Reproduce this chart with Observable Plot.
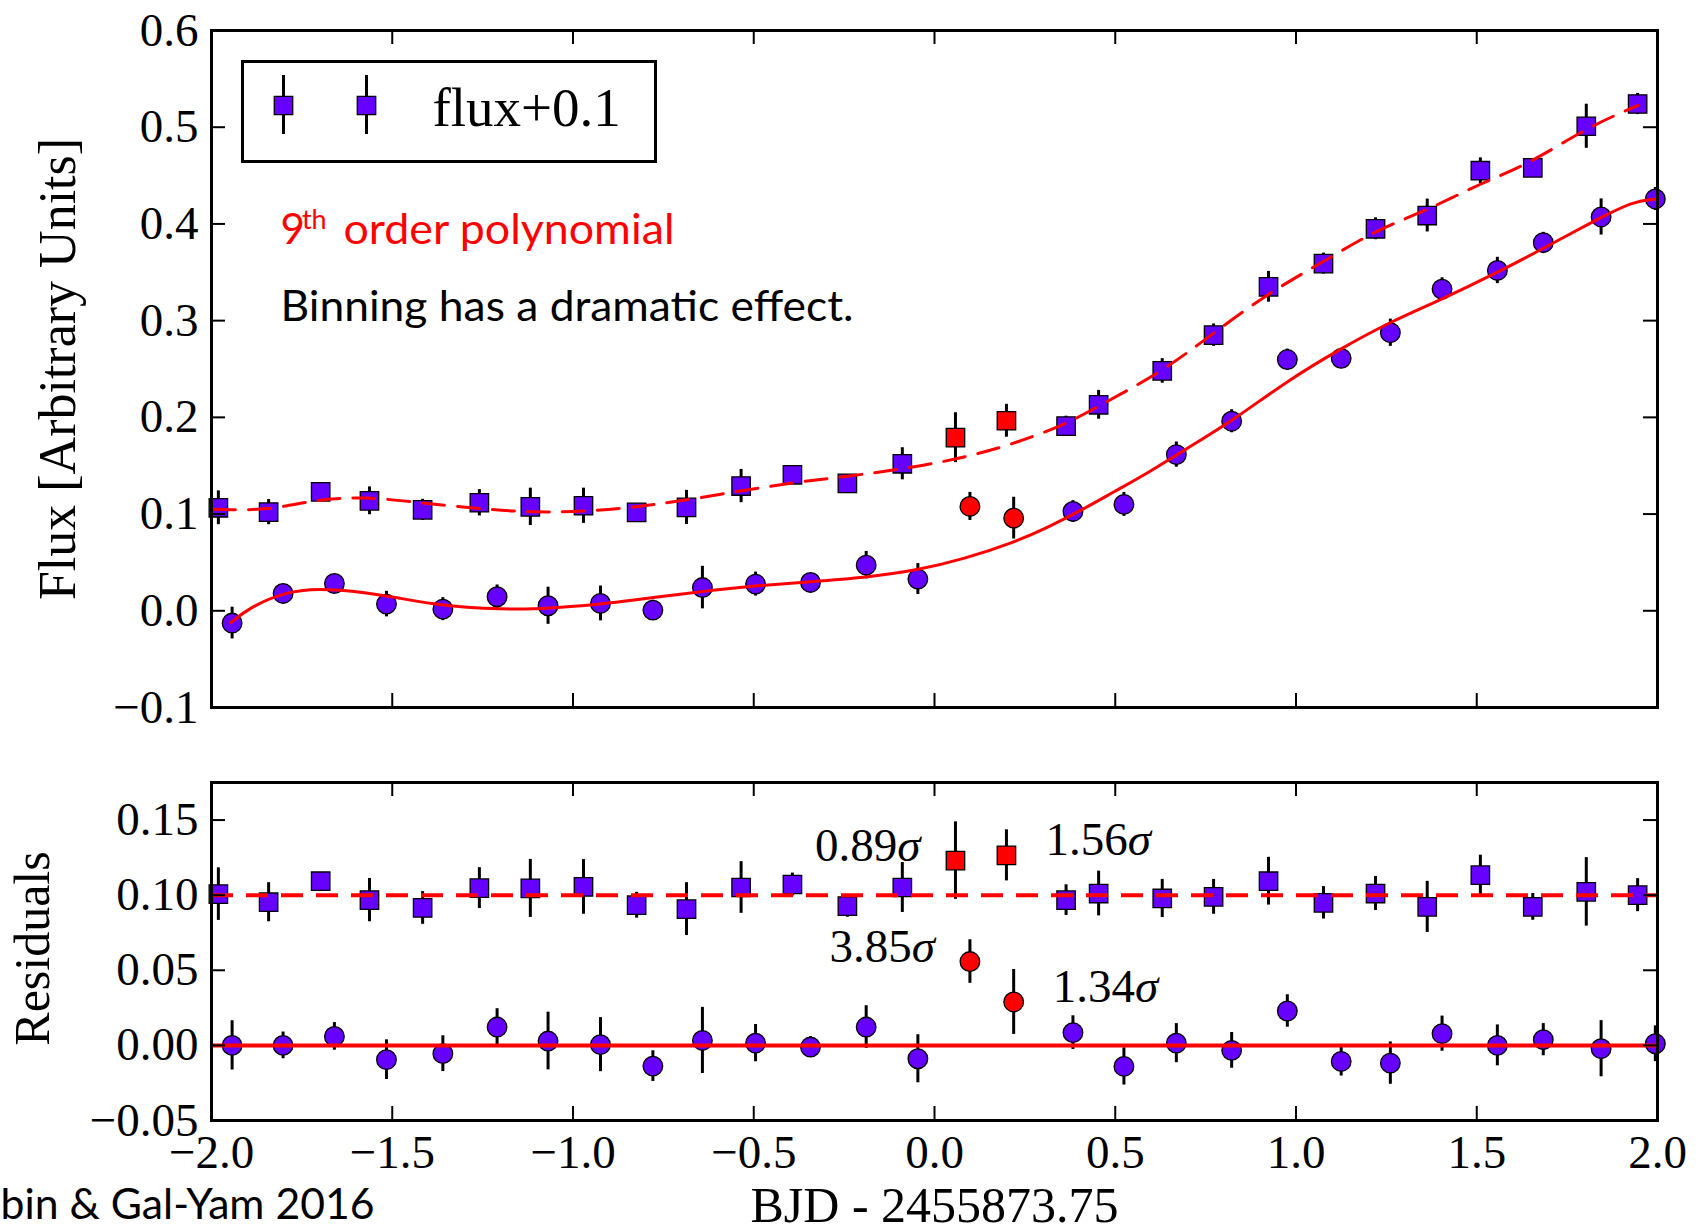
<!DOCTYPE html>
<html>
<head>
<meta charset="utf-8">
<script src="https://cdn.jsdelivr.net/npm/d3@7"></script>
<script src="https://cdn.jsdelivr.net/npm/@observablehq/plot@0.6"></script>
<style>
  html, body { margin: 0; padding: 0; background: #fff; overflow: hidden; }
  #fig { position: relative; width: 1699px; height: 1230px; background: #fff; }
  #fig svg { position: absolute; display: block; max-width: none; }
</style>
</head>
<body>
<div id="fig"></div>
<script>
// ---- Binned light curve, days relative to BJD 2455873.75 ----

// Square bins (flux shifted by +0.1)
const squareX = [-1.981, -1.842, -1.698, -1.563, -1.416, -1.259, -1.118, -0.971, -0.824, -0.686,
                 -0.535, -0.393, -0.241, -0.089, 0.058, 0.199, 0.364, 0.454, 0.630, 0.772,
                 0.924, 1.076, 1.220, 1.363, 1.510, 1.655, 1.803, 1.945];
const squareFlux = [0.1065, 0.102, 0.123, 0.1137, 0.1044, 0.1117, 0.1075, 0.1086, 0.1017, 0.1069,
                    0.129, 0.1406, 0.1317, 0.152, 0.179, 0.1965, 0.191, 0.213, 0.248, 0.285,
                    0.335, 0.359, 0.395, 0.4087, 0.455, 0.458, 0.501, 0.524];
const squareErr = [0.0175, 0.013, 0.005, 0.0144, 0.0109, 0.0136, 0.0193, 0.0182, 0.0086, 0.0176,
                   0.0172, 0.0076, 0.0074, 0.0166, 0.0258, 0.017, 0.0102, 0.0149, 0.0127, 0.0116,
                   0.0159, 0.0108, 0.0113, 0.017, 0.0133, 0.0089, 0.0228, 0.011];
const squareResid = [0.1007, 0.0953, 0.1093, 0.0967, 0.0915, 0.1047, 0.1045, 0.1055, 0.0933, 0.0907,
                     0.1051, 0.1071, 0.0927, 0.1051, 0.123, 0.1265, 0.0967, 0.1011, 0.0978, 0.0989,
                     0.1093, 0.0949, 0.1011, 0.0922, 0.1133, 0.0922, 0.1022, 0.1];

// Circle bins (unshifted flux)
const circleX = [-1.943, -1.802, -1.660, -1.516, -1.360, -1.210, -1.069, -0.924, -0.779, -0.642,
                 -0.495, -0.343, -0.189, -0.046, 0.098, 0.219, 0.383, 0.524, 0.669, 0.822,
                 0.976, 1.125, 1.261, 1.404, 1.557, 1.684, 1.844, 1.994];
const circleFlux = [-0.0127, 0.0179, 0.0282, 0.0069, 0.0017, 0.0145, 0.0052, 0.0076, 0.0007, 0.024,
                    0.0276, 0.0293, 0.0472, 0.0328, 0.1079, 0.0958, 0.1027, 0.110, 0.1615, 0.196,
                    0.2598, 0.261, 0.2875, 0.3326, 0.3519, 0.3806, 0.4072, 0.4258];
const circleErr = [0.0164, 0.0089, 0.0092, 0.0132, 0.0119, 0.0122, 0.0192, 0.018, 0.0102, 0.022,
                   0.0124, 0.0069, 0.0142, 0.016, 0.0145, 0.0216, 0.0112, 0.0124, 0.013, 0.0119,
                   0.0108, 0.0097, 0.0141, 0.0117, 0.0136, 0.0107, 0.0187, 0.0119];
const circleResid = [0.0, 0.0, 0.006, -0.0095, -0.0055, 0.0122, 0.0029, 0.0005, -0.0138, 0.0033,
                     0.0015, -0.0011, 0.0122, -0.0089, 0.0558, 0.0289, 0.0085, -0.014, 0.0015, -0.0033,
                     0.0229, -0.0107, -0.0118, 0.0078, 0.0, 0.0038, -0.0022, 0.0011];

// Bins flagged as outliers
const flaggedBins = [14, 15];

// 9th order polynomial fit through the circle bins
const fitX = [-1.947, -1.892, -1.80, -1.708, -1.569, -1.477, -1.385, -1.293, -1.20, -1.108,
              -1.016, -0.924, -0.832, -0.703, -0.610, -0.495, -0.343, -0.189, -0.046, 0.081,
              0.219, 0.312, 0.404, 0.496, 0.593, 0.690, 0.823, 0.976, 1.128, 1.262,
              1.404, 1.557, 1.686, 1.844, 1.934, 1.994];
const fitY = [-0.0124, 0.004, 0.019, 0.0237, 0.019, 0.0128, 0.0069, 0.0034, 0.0017, 0.0017,
              0.004, 0.0069, 0.011, 0.0172, 0.0214, 0.0259, 0.030, 0.0345, 0.042, 0.0535,
              0.0705, 0.086, 0.1034, 0.123, 0.143, 0.166, 0.196, 0.238, 0.272, 0.299,
              0.322, 0.3497, 0.375, 0.407, 0.4234, 0.4256];

// 9th order polynomial fit through the square bins
const fitShiftX = [-1.994, -1.846, -1.708, -1.569, -1.431, -1.247, -1.108, -0.970, -0.832, -0.693,
                   -0.537, -0.389, -0.241, -0.089, 0.053, 0.196, 0.362, 0.455, 0.630, 0.773,
                   0.925, 1.077, 1.220, 1.363, 1.510, 1.649, 1.803, 1.946];
const fitShiftY = [0.105, 0.1034, 0.1155, 0.1179, 0.112, 0.105, 0.1017, 0.1027, 0.1069, 0.114,
                   0.124, 0.1327, 0.139, 0.1465, 0.156, 0.1696, 0.1923, 0.212, 0.247, 0.2875,
                   0.3289, 0.3612, 0.3935, 0.414, 0.442, 0.4626, 0.4995, 0.5226];

// Axis ticks
const xTicks = [-2, -1.5, -1, -0.5, 0, 0.5, 1, 1.5, 2];
const fluxTicks = [-0.1, 0, 0.1, 0.2, 0.3, 0.4, 0.5, 0.6];
const residTicks = [-0.05, 0, 0.05, 0.1, 0.15];

// ---- tables ----
const squares = squareX.map((x, i) => ({i, x, y: squareFlux[i], e: squareErr[i], r: squareResid[i], base: 0.1}));
const circles = circleX.map((x, i) => ({i, x, y: circleFlux[i], e: circleErr[i], r: circleResid[i], base: 0}));
const fit = fitX.map((x, i) => ({x, y: fitY[i]}));
const fitShift = fitShiftX.map((x, i) => ({x, y: fitShiftY[i]}));

const PURPLE = "#6600ff", RED = "#ff0000";
const serif = "'Liberation Serif', 'DejaVu Serif', serif";
const sans = "Lato, 'Open Sans', sans-serif";
const isFlagged = d => flaggedBins.includes(d.i);
const fillFor = d => isFlagged(d) ? RED : PURPLE;

const W = 1699, ML = 211, MR = 42;
const FW = W - ML - MR;

// inward ticks on all four sides of a panel
function inwardTicks(frameH, yTicks) {
  return [
    Plot.tickX(xTicks, {x: d => d, insetTop: frameH - 14, stroke: "black", strokeWidth: 2}),
    Plot.tickX(xTicks, {x: d => d, insetBottom: frameH - 14, stroke: "black", strokeWidth: 2}),
    Plot.tickY(yTicks, {y: d => d, insetRight: FW - 14, stroke: "black", strokeWidth: 2}),
    Plot.tickY(yTicks, {y: d => d, insetLeft: FW - 14, stroke: "black", strokeWidth: 2})
  ];
}

function errorBars(data, value) {
  return Plot.ruleX(data, {x: "x", y1: d => value(d) - d.e, y2: d => value(d) + d.e,
                           stroke: "black", strokeWidth: 3});
}

function markers(data, value, symbol) {
  return Plot.dot(data, {x: "x", y: value, symbol, r: symbol === "square" ? 10.4 : 9.8,
                         fill: fillFor, stroke: "black", strokeWidth: 1.3});
}

const baseStyle = {fontFamily: serif, fontSize: "47px", background: "transparent", overflow: "visible", color: "black"};

// ---- upper panel: flux ----
const TOP_H = 720, TOP_MT = 30, TOP_MB = 13;
const topPlot = Plot.plot({
  width: W, height: TOP_H,
  marginTop: TOP_MT, marginBottom: TOP_MB, marginLeft: ML, marginRight: MR,
  x: {domain: [-2, 2], axis: null},
  y: {domain: [-0.1, 0.6]},
  color: {type: "identity"},
  style: baseStyle,
  marks: [
    errorBars(squares, d => d.y),
    errorBars(circles, d => d.y),
    markers(squares, "y", "square"),
    markers(circles, "y", "circle"),
    Plot.line(fitShift, {x: "x", y: "y", stroke: RED, strokeWidth: 3, strokeDasharray: "22,13", curve: "basis"}),
    Plot.line(fit, {x: "x", y: "y", stroke: RED, strokeWidth: 3, curve: "basis"}),
    Plot.frame({stroke: "black", strokeWidth: 3}),
    ...inwardTicks(TOP_H - TOP_MT - TOP_MB, fluxTicks),
    Plot.axisY(fluxTicks, {tickFormat: d3.format(".1f"), tickSize: 0, tickPadding: 13, label: null}),
    Plot.text(["Flux [Arbitrary Units]"], {frameAnchor: "left", textAnchor: "middle", rotate: -90, dx: -137,
                                          lineAnchor: "bottom", fontSize: 52}),
    Plot.text(["9"], {x: -1.809, y: 0.3795, textAnchor: "start", lineAnchor: "bottom", fill: RED, fontFamily: sans, fontSize: 42}),
    Plot.text(["th"], {x: -1.750, y: 0.395, textAnchor: "start", lineAnchor: "bottom", fill: RED, fontFamily: sans, fontSize: 27}),
    Plot.text(["order polynomial"], {x: -1.635, y: 0.3795, textAnchor: "start", lineAnchor: "bottom", fill: RED,
                                     fontFamily: sans, fontSize: 42}),
    Plot.text(["Binning has a dramatic effect."], {x: -1.809, y: 0.300, textAnchor: "start", lineAnchor: "bottom",
                                     fontFamily: sans, fontSize: 42})
  ]
});

// ---- legend ----
const legend = Plot.plot({
  width: 417, height: 104, margin: 0,
  x: {domain: [0, 417], axis: null},
  y: {domain: [104, 0], axis: null},
  style: {...baseStyle, background: "white", overflow: "hidden"},
  marks: [
    Plot.frame({inset: 2, stroke: "black", strokeWidth: 3}),
    Plot.ruleX([43, 126], {x: d => d, y1: 16, y2: 75, stroke: "black", strokeWidth: 3}),
    Plot.dot([43, 126], {x: d => d, y: 46, symbol: "square", r: 10.4, fill: PURPLE, stroke: "black", strokeWidth: 1.3}),
    Plot.text(["flux+0.1"], {x: 192, y: 66, textAnchor: "start", lineAnchor: "bottom", fontSize: 55})
  ]
});

// ---- lower panel: residuals ----
const BOT_H = 510, BOT_MT = 62, BOT_MB = 110;
const sigmaText = d => ((d.r - d.base) / d.e).toFixed(2) + "σ";
const firstFlag = [...squares, ...circles].filter(d => d.i === flaggedBins[0]);
const secondFlag = [...squares, ...circles].filter(d => d.i === flaggedBins[1]);

const botPlot = Plot.plot({
  width: W, height: BOT_H,
  marginTop: BOT_MT, marginBottom: BOT_MB, marginLeft: ML, marginRight: MR,
  x: {domain: [-2, 2]},
  y: {domain: [-0.05, 0.175]},
  color: {type: "identity"},
  style: baseStyle,
  marks: [
    errorBars(squares, d => d.r),
    errorBars(circles, d => d.r),
    markers(squares, "r", "square"),
    markers(circles, "r", "circle"),
    Plot.ruleY([0.1], {stroke: RED, strokeWidth: 4, strokeDasharray: "22,13"}),
    Plot.ruleY([0], {stroke: RED, strokeWidth: 4}),
    Plot.frame({stroke: "black", strokeWidth: 3}),
    ...inwardTicks(BOT_H - BOT_MT - BOT_MB, residTicks),
    Plot.axisY(residTicks, {tickFormat: d3.format(".2f"), tickSize: 0, tickPadding: 13, label: null}),
    Plot.axisX(xTicks, {tickFormat: d3.format(".1f"), tickSize: 0, tickPadding: 14, label: null}),
    Plot.text(firstFlag, {x: "x", y: "r", text: sigmaText, textAnchor: "end", lineAnchor: "bottom", dx: -35}),
    Plot.text(secondFlag, {x: "x", y: "r", text: sigmaText, textAnchor: "start", lineAnchor: "bottom", dx: 39}),
    Plot.text(["Residuals"], {frameAnchor: "left", textAnchor: "middle", rotate: -90, dx: -163, dy: -3,
                              lineAnchor: "bottom", fontSize: 50}),
    Plot.text(["BJD - 2455873.75"], {frameAnchor: "bottom", dy: 101, lineAnchor: "bottom", fontSize: 50}),
    Plot.text(["bin & Gal-Yam 2016"], {frameAnchor: "bottom-left", dx: -ML, dy: 98, textAnchor: "start", lineAnchor: "bottom",
                                       fontFamily: sans, fontSize: 42})
  ]
});

// ---- typographic touches ----
function fitWidth(svg, content, length) {
  svg.querySelectorAll("text").forEach(t => {
    if (t.textContent === content) {
      t.setAttribute("textLength", length);
      t.setAttribute("lengthAdjust", "spacingAndGlyphs");
    }
  });
}
fitWidth(topPlot, "order polynomial", 331);
fitWidth(topPlot, "Binning has a dramatic effect.", 573);
fitWidth(botPlot, "bin & Gal-Yam 2016", 374);

// italic sigma
botPlot.querySelectorAll("text").forEach(t => {
  const s = t.textContent;
  if (t.childElementCount === 0 && s.endsWith("σ")) {
    t.textContent = s.slice(0, -1);
    const ts = document.createElementNS("http://www.w3.org/2000/svg", "tspan");
    ts.setAttribute("font-style", "italic");
    ts.textContent = "σ";
    t.appendChild(ts);
  }
});

const fig = document.getElementById("fig");
topPlot.style.left = "0px"; topPlot.style.top = "0px";
botPlot.style.left = "0px"; botPlot.style.top = TOP_H + "px";
legend.style.left = "240px"; legend.style.top = "59px";
fig.append(botPlot, topPlot, legend);
</script>
</body>
</html>
